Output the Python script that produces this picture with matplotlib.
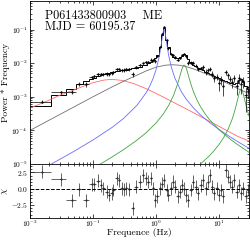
import numpy as np
import matplotlib
matplotlib.use("Agg")
from matplotlib import pyplot as plt
from matplotlib.ticker import LogLocator, FuncFormatter, MultipleLocator, NullFormatter

plt.rcParams['font.family'] = ['cmr10', 'DejaVu Serif']
plt.rcParams['mathtext.fontset'] = 'cm'
plt.rcParams['axes.formatter.use_mathtext'] = True
plt.rcParams['axes.unicode_minus'] = False

obs_id = "P061433800903    ME"
mjd_text = "MJD = 60195.37"

# binned power spectrum (bin centres, Hz)
freq = [0.0153, 0.0307, 0.046, 0.0606, 0.0773, 0.095, 0.104, 0.121, 0.134, 0.146,
        0.165, 0.18, 0.198, 0.21, 0.238, 0.26, 0.285, 0.315, 0.34, 0.376, 0.425, 0.48,
        0.557, 0.628, 0.687, 0.755, 0.834, 0.906, 0.964, 1.05, 1.16, 1.26, 1.355, 1.48,
        1.57, 1.73, 1.88, 2.0, 2.21, 2.40, 2.56, 2.78, 2.96, 3.26, 3.56, 3.91, 4.27,
        4.69, 5.13, 5.64, 6.15, 6.62, 7.2, 7.83, 8.42, 9.19, 10.0, 10.8, 11.7, 12.8,
        13.7, 15.0, 16.3, 17.5, 19.1, 20.8, 22.3, 24.3, 26.5, 29.2]

# total model in each bin (black step line)
model = [5.2e-4, 1.1e-3, 1.75e-3, 2.4e-3, 2.95e-3, 3.5e-3, 3.75e-3, 4.15e-3, 4.45e-3, 4.68e-3,
         4.99e-3, 5.18e-3, 5.4e-3, 5.52e-3, 5.77e-3, 5.94e-3, 6.11e-3, 6.31e-3, 6.46e-3, 6.69e-3,
         7.01e-3, 7.38e-3, 7.96e-3, 8.55e-3, 9.11e-3, 9.86e-3, 1.10e-2, 1.24e-2, 1.40e-2, 1.81e-2,
         3.10e-2, 6.86e-2, 0.109, 4.93e-2, 3.0e-2, 1.90e-2, 1.57e-2, 1.46e-2, 1.41e-2, 1.50e-2,
         1.67e-2, 1.85e-2, 1.72e-2, 1.31e-2, 1.07e-2, 9.13e-3, 8.13e-3, 7.31e-3, 6.66e-3, 6.07e-3,
         5.58e-3, 5.21e-3, 4.81e-3, 4.52e-3, 4.23e-3, 3.92e-3, 3.63e-3, 3.39e-3, 3.17e-3, 2.94e-3,
         2.78e-3, 2.62e-3, 2.51e-3, 2.45e-3, 2.61e-3, 3.06e-3, 3.39e-3, 2.82e-3, 2.09e-3, 1.65e-3]

# residuals (data - model) / error
chi = [2.6, 1.47, -1.75, -0.05, -1.75, 0.7, 0.7, 1.2, 0.55, 0.05, -0.46, -0.97, -0.72, -0.2,
       1.58, 1.3, 0.05, -0.05, 0.05, -0.05, -3.0, 0.3,
       1.07, 2.1, 1.6, 1.07, 1.6, 0.05, -1.75, -1.2, 0.05, 0.8, 1.3, -0.2, -0.97, 0.05, 1.07,
       0.3, -1.2, -0.46, 0.5, 0.0, -1.0, -1.75, -0.2, 1.07, 0.3, -0.72, 0.55, 1.3, 0.05, 1.07,
       2.1, 0.3, -0.72, 0.05, -0.97, -0.2, -1.2, 2.85, 1.84, 1.07, 0.3, 1.3, -0.46, 0.5, -0.72,
       0.05, -1.2, -0.2]

# fractional error on each bin
rel_err = ([0.15, 0.15, 0.12, 0.12, 0.12] + [0.11] * 17 + [0.1] * 7 + [0.08] * 14
           + [0.12] * 6 + [0.2] * 7 + [0.3] * 6 + [0.38] * 8)

# model components (Lorentzians)
red_f = [0.01, 0.015, 0.02, 0.03, 0.05, 0.07, 0.1, 0.15, 0.2, 0.3, 0.45, 0.7, 1.0, 1.5, 2.0,
         3.0, 5.0, 7.0, 10, 15, 20, 30]
red_p = [4.6e-4, 6.3e-4, 7.9e-4, 1.12e-3, 1.6e-3, 2.05e-3, 2.64e-3, 3.15e-3, 3.3e-3, 3.05e-3,
         2.45e-3, 1.74e-3, 1.27e-3, 8.6e-4, 6.5e-4, 4.4e-4, 2.64e-4, 1.88e-4, 1.32e-4, 8.8e-5,
         6.6e-5, 4.8e-5]

gray_f = [0.01, 0.02, 0.03, 0.05, 0.1, 0.2, 0.3, 0.5, 0.7, 1.0, 1.4, 1.8, 2.3, 3.0, 4.0, 5.5,
          7.5, 10, 14, 20, 30]
gray_p = [1.0e-4, 2.0e-4, 3.0e-4, 5.0e-4, 1.0e-3, 1.96e-3, 2.85e-3, 4.4e-3, 5.9e-3, 7.6e-3,
          8.7e-3, 9.0e-3, 8.75e-3, 7.95e-3, 6.7e-3, 5.3e-3, 4.2e-3, 3.25e-3, 2.45e-3, 1.75e-3,
          1.25e-3]

blue_f = [0.01, 0.02, 0.03, 0.05, 0.1, 0.2, 0.3, 0.5, 0.7, 0.8, 0.9, 1.0, 1.1, 1.15, 1.2, 1.22,
          1.26, 1.3, 1.32, 1.34, 1.36, 1.38, 1.42, 1.46, 1.5, 1.55, 1.6, 1.7, 1.8, 2.0, 2.5,
          3.0, 4.0, 5.0, 7.0, 10, 15, 20, 30]
blue_p = [4.5e-6, 9.1e-6, 1.39e-5, 2.39e-5, 5.17e-5, 1.22e-4, 2.2e-4, 5.58e-4, 1.33e-3, 2.12e-3,
          3.52e-3, 6.33e-3, 1.29e-2, 1.97e-2, 3.17e-2, 3.89e-2, 5.89e-2, 8.46e-2, 9.51e-2,
          1.002e-1, 9.8e-2, 8.98e-2, 6.64e-2, 4.65e-2, 3.31e-2, 2.26e-2, 1.63e-2, 9.69e-3,
          6.48e-3, 3.58e-3, 1.47e-3, 8.68e-4, 4.52e-4, 2.98e-4, 1.75e-4, 1.07e-4, 6.43e-5,
          4.6e-5, 2.92e-5]

green1_f = [0.1, 0.15, 0.2, 0.3, 0.5, 0.7, 1.0, 1.3, 1.6, 1.9, 2.2, 2.4, 2.5, 2.6, 2.7, 2.78,
            2.9, 3.0, 3.1, 3.2, 3.35, 3.5, 3.75, 4.0, 4.5, 5.0, 6.0, 7.0, 10, 15, 20, 30]
green1_p = [7.5e-6, 1.16e-5, 1.61e-5, 2.61e-5, 5.12e-5, 8.56e-5, 1.65e-4, 3.02e-4, 5.62e-4,
            1.10e-3, 2.37e-3, 4.15e-3, 5.45e-3, 6.93e-3, 8.23e-3, 8.79e-3, 8.47e-3, 7.42e-3,
            6.17e-3, 5.02e-3, 3.69e-3, 2.78e-3, 1.85e-3, 1.32e-3, 7.9e-4, 5.39e-4, 3.13e-4,
            2.14e-4, 1.05e-4, 5.52e-5, 3.71e-5, 2.23e-5]

green2_f = [4, 5, 6, 7, 8, 10, 12, 14, 16, 17, 18, 19, 20, 21, 21.7, 22.3, 23, 23.5, 24.2, 25,
            26, 27, 28.5, 30]
green2_p = [7.0e-6, 9.77e-6, 1.32e-5, 1.74e-5, 2.26e-5, 3.77e-5, 6.32e-5, 1.09e-4, 2.02e-4,
            2.84e-4, 4.10e-4, 6.08e-4, 9.12e-4, 1.32e-3, 1.58e-3, 1.70e-3, 1.65e-3, 1.51e-3,
            1.265e-3, 9.89e-4, 7.24e-4, 5.41e-4, 3.69e-4, 2.68e-4]

f = np.array(freq)
mod = np.array(model)
perr = np.array(rel_err) * mod
power = mod + np.array(chi) * perr

mids = np.sqrt(f[:-1] * f[1:])
edges = np.concatenate([[0.01], mids, [f[-1] ** 2 / mids[-1]]])
xerr = [f - edges[:-1], edges[1:] - f]

fig = plt.figure(figsize=(2.5, 2.4), dpi=100)
ax = fig.add_axes([0.12, 0.3167, 0.876, 0.68])
axr = fig.add_axes([0.12, 0.093, 0.876, 0.2237], sharex=ax)

ax.plot(red_f, red_p, color="#ff6b6b", lw=0.6)
ax.plot(gray_f, gray_p, color="#707070", lw=0.6)
ax.plot(blue_f, blue_p, color="#6b6bff", lw=0.6)
ax.plot(green1_f, green1_p, color="#3fa53f", lw=0.6)
ax.plot(green2_f, green2_p, color="#3fa53f", lw=0.6)
ax.stairs(mod, edges, color="k", lw=0.7, baseline=None)
ax.errorbar(f, power, xerr=xerr, yerr=perr, fmt=".", color="k", ms=1.2, elinewidth=0.5, capsize=0)

ax.set_xscale("log")
ax.set_yscale("log")
ax.set_xlim(0.01, 30)
ax.set_ylim(1e-5, 0.72)
ax.set_ylabel("Power * Frequency", fontsize=6.8, labelpad=1)
ax.text(0.068, 0.905, obs_id, transform=ax.transAxes, fontsize=8.8, va="center")
ax.text(0.068, 0.838, mjd_text, transform=ax.transAxes, fontsize=8.8, va="center")

axr.errorbar(f, chi, xerr=xerr, yerr=1, fmt=".", color="0.15", ms=1.0, elinewidth=0.5, capsize=0)
axr.axhline(0, color="k", ls="--", lw=0.7)
axr.set_ylim(-4.47, 3.81)
axr.yaxis.set_major_locator(MultipleLocator(2.5))
axr.yaxis.set_minor_locator(MultipleLocator(0.5))
axr.yaxis.set_major_formatter(FuncFormatter(lambda v, p: "$%.1f$" % v))
axr.set_ylabel(r"$\chi$", fontsize=7, labelpad=1)
axr.set_xlabel("Frequence (Hz)", fontsize=6.9)
axr.xaxis.set_label_coords(0.5, -0.2)

for a in (ax, axr):
    a.tick_params(which="both", direction="in", top=True, right=True, labelsize=5.4, width=0.5, pad=1.5)
    a.tick_params(which="major", length=2.6)
    a.tick_params(which="minor", length=1.4)
    for s in a.spines.values():
        s.set_linewidth(0.6)
axr.tick_params(axis="x", pad=0.8, labelsize=5.2)
axr.xaxis.set_major_locator(LogLocator(base=10, numticks=10))
axr.xaxis.set_minor_locator(LogLocator(base=10, subs=np.arange(2, 10), numticks=10))
axr.xaxis.set_minor_formatter(NullFormatter())
ax.yaxis.set_major_locator(LogLocator(base=10, numticks=10))
ax.yaxis.set_minor_locator(LogLocator(base=10, subs=np.arange(2, 10), numticks=10))
ax.yaxis.set_minor_formatter(NullFormatter())
ax.tick_params(labelbottom=False)

fig.savefig("out.png", dpi=100)
